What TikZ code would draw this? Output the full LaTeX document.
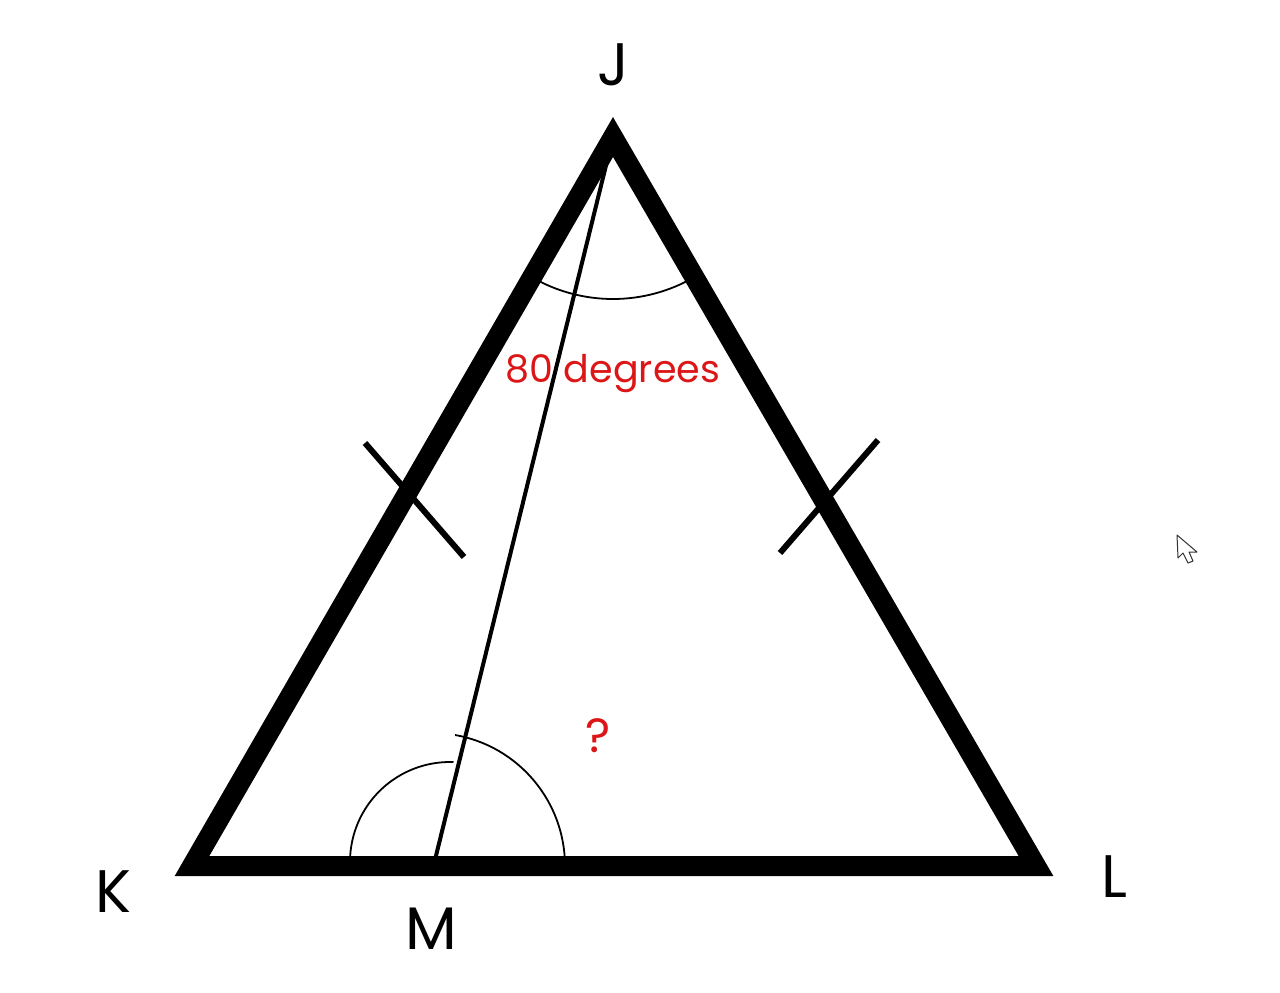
\documentclass[tikz,border=0pt]{standalone}
\usepackage{fontspec}
\setmainfont{Poppins}
\definecolor{lblred}{RGB}{220,22,22}
\tikzset{
  tri/.style={line width=20pt, line join=miter, draw=black},
  median/.style={line width=4pt, draw=black},
  anglearc/.style={line width=1.8pt, draw=black},
  tick/.style={line width=6pt, draw=black},
  vlabel/.style={font=\fontsize{60}{60}\selectfont, inner sep=0pt},
  redlabel/.style={text=lblred, inner sep=0pt},
}
\begin{document}
\begin{tikzpicture}[x=1pt,y=-1pt]
\useasboundingbox[fill=white] (0,0) rectangle (1280,993);
\coordinate (J) at (613,137);
\coordinate (K) at (192,866);
\coordinate (L) at (1036,866);
\coordinate (M) at (432,872);
\coordinate (Mc) at (432,866);
\coordinate (Ms) at (450,862);
% angle arcs
\draw[anglearc] ([shift={(-120:162pt)}]J) arc (-120:-60:162pt);
\draw[anglearc] ([shift={(0:133pt)}]Mc) arc (0:80:133pt);
\draw[anglearc] ([shift={(88:100pt)}]Ms) arc (88:180:100pt);
% triangle
\draw[tri] (J) -- (L) -- (K) -- cycle;
% median
\draw[median] (J) -- (M);
% tick marks
\coordinate (t1a) at (365,443); \coordinate (t1b) at (464,557);
\coordinate (t2a) at (878,440); \coordinate (t2b) at (780,553);
\draw[tick] (t1a) -- (t1b);
\draw[tick] (t2a) -- (t2b);
% labels
\node[vlabel] (lJ) at (613,65) {J};
\node[vlabel] (lK) at (113,892) {K};
\node[vlabel] (lM) at (431,929) {M};
\node[vlabel] (lL) at (1114,877) {L};
\node[redlabel, font=\fontsize{38}{38}\selectfont] (deg) at (613,374) {80 degrees};
\node[redlabel, font=\fontsize{48}{48}\selectfont] (q) at (598,736) {?};
% cursor
\draw[line width=1pt, draw=black!80, fill=white, line join=round]
  (1177,535) -- (1178,558) -- (1183,553) -- (1188,563) -- (1193,561)
  -- (1189,552) -- (1197,552) -- cycle;
\end{tikzpicture}
\end{document}
